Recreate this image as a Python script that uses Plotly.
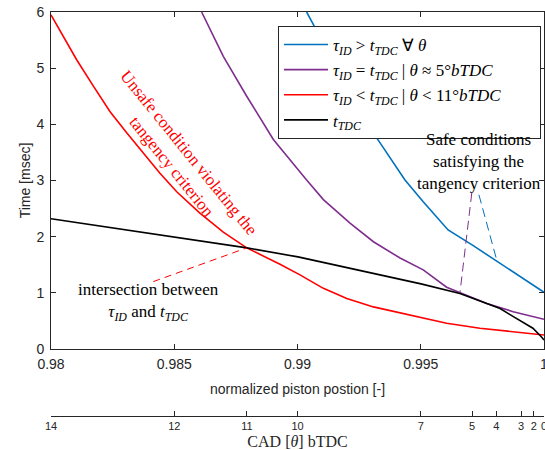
import plotly.graph_objects as go

# ---------------- data ----------------
# normalized piston position (x) and time in msec (y)
blue_x = [0.99037, 0.99064, 0.99152, 0.99247, 0.99335, 0.99436, 0.99510, 0.99611, 0.99713, 0.99808, 1.0]
blue_y = [6.0, 5.78, 4.97, 4.23, 3.67, 3.01, 2.62, 2.12, 1.84, 1.57, 1.01]

purple_x = [0.98611, 0.98699, 0.98794, 0.98902, 0.99037, 0.99105, 0.99213, 0.99308, 0.99416, 0.99510,
            0.99605, 0.99659, 0.99768, 0.99875, 1.0]
purple_y = [6.0, 5.21, 4.50, 3.73, 3.01, 2.66, 2.24, 1.91, 1.62, 1.41, 1.10, 1.00, 0.81, 0.665, 0.53]

red_x = [0.98, 0.98037, 0.98104, 0.98172, 0.98239, 0.98307, 0.98374, 0.98442, 0.98510, 0.98604, 0.98699,
         0.98794, 0.98929, 0.99010, 0.99105, 0.99200, 0.99308, 0.99416, 0.99510, 0.99605, 0.99740,
         0.99875, 1.0]
red_y = [5.95, 5.66, 5.15, 4.68, 4.23, 3.85, 3.49, 3.13, 2.80, 2.42, 2.08, 1.80, 1.51, 1.32, 1.08, 0.90,
         0.75, 0.64, 0.55, 0.46, 0.37, 0.31, 0.25]

black_x = [0.98, 0.98199, 0.98499, 0.98795, 0.99002, 0.99254, 0.99501, 0.99659, 0.99769, 0.99822,
           0.99874, 0.99919, 0.99955, 0.99991, 1.0]
black_y = [2.32, 2.19, 1.99, 1.80, 1.64, 1.40, 1.16, 0.99, 0.815, 0.72, 0.58, 0.47, 0.37, 0.21, 0.16]

# main x ticks
x_tickvals = [0.98, 0.985, 0.99, 0.995, 1.0]
x_ticktext = ["0.98", "0.985", "0.99", "0.995", "1"]
y_tickvals = [0, 1, 2, 3, 4, 5, 6]

# secondary axis: crank angle (deg bTDC) at piston positions
cad_pos = [0.98, 0.985, 0.98795, 0.99, 0.995, 0.99708, 0.99807, 0.99907, 0.99959, 1.0]
cad_text = ["14", "12", "11", "10", "7", "5", "4", "3", "2", "0"]

# annotation leader lines (data coords)
lead_red_x = [0.98415, 0.98794]
lead_red_y = [1.20, 1.80]
lead_purple_x = [0.99707, 0.99659]
lead_purple_y = [2.777, 1.00]
lead_blue_x = [0.99736, 0.99808]
lead_blue_y = [2.746, 1.587]

BLUE = "#0072BD"
PURPLE = "#7E2F8E"
RED = "#FF0000"
AXC = "#262626"
SERIF = "Liberation Serif"
SANS = "Liberation Sans"
NB = "\u00a0"

fig = go.Figure()

names = [
    "<i>τ</i><sub><i>ID</i></sub> &gt; <i>t</i><sub><i>TDC</i></sub> ∀ <i>θ</i>",
    "<i>τ</i><sub><i>ID</i></sub> = <i>t</i><sub><i>TDC</i></sub> | <i>θ</i> ≈ 5°<i>bTDC</i>",
    "<i>τ</i><sub><i>ID</i></sub> &lt; <i>t</i><sub><i>TDC</i></sub> | <i>θ</i> &lt; 11°<i>bTDC</i>" + NB * 8,
    "<i>t</i><sub><i>TDC</i></sub>",
]
for xs, ys, col, nm in [(blue_x, blue_y, BLUE, names[0]), (purple_x, purple_y, PURPLE, names[1]),
                        (red_x, red_y, RED, names[2]), (black_x, black_y, "black", names[3])]:
    fig.add_trace(go.Scatter(x=xs, y=ys, mode="lines", name=nm,
                             line=dict(color=col, width=1.6), cliponaxis=True))

# leader lines
fig.add_trace(go.Scatter(x=lead_red_x, y=lead_red_y, mode="lines", showlegend=False,
                         line=dict(color=RED, width=1, dash="7px,5px")))
fig.add_trace(go.Scatter(x=lead_purple_x, y=lead_purple_y, mode="lines", showlegend=False,
                         line=dict(color=PURPLE, width=1, dash="9px,5px")))
fig.add_trace(go.Scatter(x=lead_blue_x, y=lead_blue_y, mode="lines", showlegend=False,
                         line=dict(color=BLUE, width=1, dash="9px,5px")))

# invisible trace registering the secondary x axis
fig.add_trace(go.Scatter(x=cad_pos, y=[0] * len(cad_pos), xaxis="x2", yaxis="y", mode="lines",
                         line=dict(width=0, color="rgba(0,0,0,0)"), showlegend=False, hoverinfo="skip"))

fig.update_layout(
    width=545, height=450,
    margin=dict(l=51, r=1, t=12, b=34, autoexpand=False),
    plot_bgcolor="white", paper_bgcolor="white",
    font=dict(family=SANS, size=14, color=AXC),
    xaxis=dict(range=[0.98, 1.0], tickvals=x_tickvals, ticktext=x_ticktext, showgrid=False,
               zeroline=False, showline=True, linecolor=AXC, linewidth=1, mirror="ticks",
               ticks="inside", ticklen=5, tickcolor=AXC, ticklabelstandoff=2, automargin=False,
               ticklabeloverflow="allow",
               title=dict(text="normalized piston postion [-]", standoff=13, font=dict(size=14)),
               anchor="y"),
    yaxis=dict(range=[0, 6], domain=[0.1658, 1], tickvals=y_tickvals, showgrid=False, zeroline=False,
               showline=True, linecolor=AXC, linewidth=1, mirror="ticks", ticks="inside", ticklen=5,
               tickcolor=AXC, ticklabelstandoff=3, automargin=False,
               title=dict(text="Time [msec]", standoff=2, font=dict(size=14))),
    xaxis2=dict(range=[0.98, 1.0], overlaying="x", anchor="free", position=0, side="bottom",
                tickvals=cad_pos, ticktext=cad_text, showgrid=False, zeroline=False, showline=True,
                linecolor=AXC, linewidth=1, ticks="inside", ticklen=5, tickcolor=AXC,
                tickfont=dict(size=11), ticklabelstandoff=0, ticklabeloverflow="allow",
                title=dict(text="CAD [<i>θ</i>] bTDC", standoff=6, font=dict(family=SERIF, size=16)),
                automargin=False),
    legend=dict(x=0.4604, y=0.9653, xanchor="left", yanchor="top", bgcolor="white",
                bordercolor=AXC, borderwidth=1, font=dict(family=SERIF, size=17, color="black"),
                tracegroupgap=0, itemwidth=44),
    showlegend=True,
)

fig.add_annotation(x=0.98523, y=3.37, xref="x", yref="y",
                   text="Unsafe condition violating the<br>tangency criterion",
                   showarrow=False, textangle=51, font=dict(family=SERIF, size=17, color=RED),
                   align="center", xanchor="center", yanchor="middle")
fig.add_annotation(x=0.99736, y=3.33, xref="x", yref="y",
                   text="Safe conditions<br>satisfying the<br>tangency criterion",
                   showarrow=False, font=dict(family=SERIF, size=17, color="black"),
                   align="center", xanchor="center", yanchor="middle")
fig.add_annotation(x=0.98394, y=0.83, xref="x", yref="y",
                   text="intersection between<br><i>τ</i><sub><i>ID</i></sub> and <i>t</i><sub><i>TDC</i></sub>",
                   showarrow=False, font=dict(family=SERIF, size=17, color="black"),
                   align="center", xanchor="center", yanchor="middle")

fig.write_html("out.html", config={"displayModeBar": False},
               post_script="document.body.style.margin='0';document.body.style.overflow='hidden';")
